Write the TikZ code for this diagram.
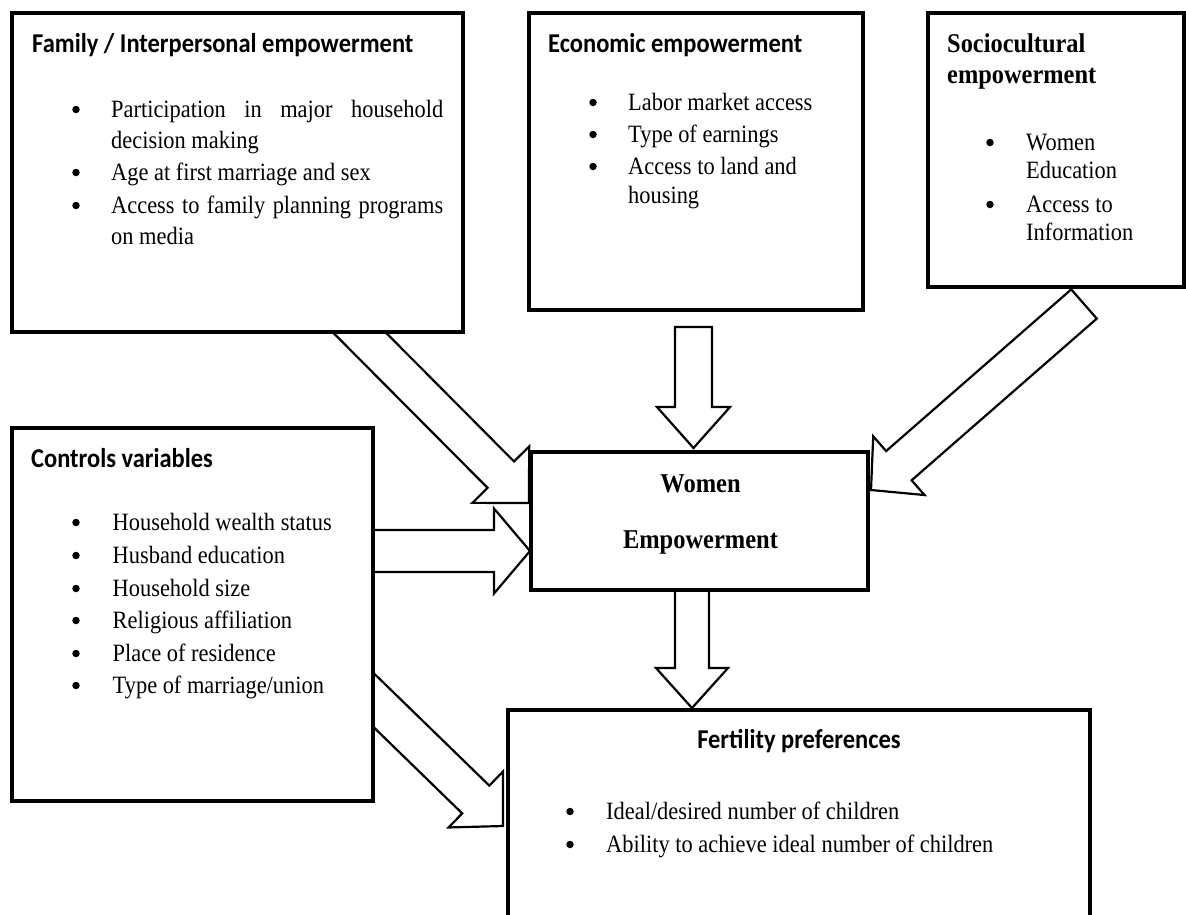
\documentclass[tikz,border=0pt]{standalone}
\usepackage{fontspec}
\setmainfont{Liberation Serif}[FakeStretch=0.9]
\newfontfamily\calibri{Carlito}[FakeStretch=0.9]
\usetikzlibrary{calc}
\pgfdeclarelayer{bg}
\pgfdeclarelayer{arr}
\pgfsetlayers{bg,arr,main}
\tikzset{
  box/.style={draw=black, line width=3.6pt, fill=white, rectangle, inner sep=0pt, outer sep=0pt, anchor=north west},
  blockarr/.style={draw=black, line width=2.2pt, fill=white, line join=miter},
  ttl/.style={font=\calibri\bfseries\fontsize{27.2}{31}\selectfont, inner sep=0pt, anchor=base west},
  sttl/.style={font=\bfseries\fontsize{27.1}{31}\selectfont, inner sep=0pt, anchor=base west},
  wttl/.style={font=\bfseries\fontsize{27.2}{31}\selectfont, inner sep=0pt, anchor=base},
  body/.style={font=\fontsize{24.9}{#1}\selectfont, inner sep=0pt, anchor=base west},
  body/.default=31.5,
  bul/.style={circle, fill=black, draw=none, inner sep=0pt, minimum size=7.5pt},
}
\newcommand\blockarrow[5]{%
  \path ($(#2)!#5!(#1)$) coordinate (tmpN);
  \draw[blockarr] ($(#1)!#3!90:(#2)$) -- ($(tmpN)!#3!90:(#2)$) -- ($(tmpN)!#4!90:(#2)$) -- (#2)
    -- ($(tmpN)!#4!-90:(#2)$) -- ($(tmpN)!#3!-90:(#2)$) -- ($(#1)!#3!-90:(#2)$) -- cycle;}
% bullet dot: name, x (left of glyph), baseline y
\newcommand\bulat[3]{\node[bul] (#1) at ($(#2,#3)+(4,-7.5)$) {};}
\begin{document}
\begin{tikzpicture}[x=1pt,y=-1pt]
\begin{pgfonlayer}{bg}
\fill[white] (0,0) rectangle (1186,914);
\end{pgfonlayer}
\useasboundingbox (0,0) rectangle (1186,914);

% boxes
\node[box, minimum width=451pt, minimum height=319pt] (fam) at (12,13) {};
\node[box, minimum width=334pt, minimum height=297pt] (econ) at (529,13) {};
\node[box, minimum width=256pt, minimum height=274pt] (socio) at (928,13) {};
\node[box, minimum width=361pt, minimum height=373pt] (ctrl) at (12,428) {};
\node[box, minimum width=337pt, minimum height=138pt] (women) at (531,452) {};
\node[box, minimum width=582pt, minimum height=240pt] (fert) at (508,710) {};

% arrow end points
\coordinate (famS) at ($(fam.south east)+(-123,-19)$);
\coordinate (famE) at ($(women.west)+(-2,-18)$);
\coordinate (ecoS) at ($(econ.south)+(-2.5,17)$);
\coordinate (ecoE) at ($(women.north)+(-6,-4)$);
\coordinate (socS) at ($(socio.south)+(28,17)$);
\coordinate (socE) at ($(women.east)+(3,-31)$);
\coordinate (ctwS) at ($(ctrl.east)+(-13,-63.5)$);
\coordinate (ctwE) at ($(women.west)+(-1,30)$);
\coordinate (ctfS) at ($(ctrl.east)+(-18,67.5)$);
\coordinate (ctfE) at ($(fert.north west)+(-5,116)$);
\coordinate (wfS) at ($(women.south)+(-7.5,-15)$);
\coordinate (wfE) at ($(women.south)+(-7.5,118)$);

\begin{pgfonlayer}{arr}
\blockarrow{ctwS}{ctwE}{21pt}{42.5pt}{36pt}
\blockarrow{famS}{famE}{18.7pt}{40pt}{40pt}
\blockarrow{ecoS}{ecoE}{18.5pt}{36.5pt}{41pt}
\blockarrow{socS}{socE}{19.4pt}{39pt}{37pt}
\blockarrow{ctfS}{ctfE}{19.4pt}{39pt}{38pt}
\blockarrow{wfS}{wfE}{17pt}{36pt}{40pt}
\end{pgfonlayer}

% Family box text
\node[ttl] (famT) at (32,52) {Family / Interpersonal empowerment};
\bulat{famB1}{72}{117}
\bulat{famB2}{72}{180}
\bulat{famB3}{72}{213}
\node[body] (famI1) at (111,117) {\parbox[t]{332pt}{Participation in major household\linebreak decision making}};
\node[body] (famI2) at (111,180) {Age at first marriage and sex};
\node[body] (famI3) at (111,213) {\parbox[t]{332pt}{Access to family planning programs\linebreak on media}};

% Economic box text
\node[ttl] (ecoT) at (548,52) {Economic empowerment};
\bulat{ecoB1}{589}{110}
\bulat{ecoB2}{589}{142}
\bulat{ecoB3}{589}{174}
\node[body] (ecoI1) at (628,110) {Labor market access};
\node[body] (ecoI2) at (628,142) {Type of earnings};
\node[body=29] (ecoI3) at (628,174) {\parbox[t]{220pt}{\raggedright Access to land and\\housing}};

% Sociocultural box text
\node[sttl] (socT) at (947,52) {\parbox[t]{220pt}{\raggedright Sociocultural\\empowerment}};
\bulat{socB1}{986}{150}
\bulat{socB2}{986}{212}
\node[body=28.5] (socI1) at (1026,150) {\parbox[t]{150pt}{\raggedright Women\\Education}};
\node[body=28.5] (socI2) at (1026,212) {\parbox[t]{150pt}{\raggedright Access to\\Information}};

% Controls box text
\node[ttl] (ctlT) at (31,467) {Controls variables};
\foreach \yy/\tx [count=\i] in {530/Household wealth status, 563/Husband education, 596/Household size, 628/Religious affiliation, 661/Place of residence, 693/Type of marriage\slash union}{
  \bulat{ctlB\i}{72}{\yy}
  \node[body] (ctlI\i) at (112.5,\yy) {\tx};
}

% Women empowerment text
\node[wttl] (womT1) at ($(women.center)+(1,-29)$) {Women};
\node[wttl] (womT2) at ($(women.center)+(1,27)$) {Empowerment};

% Fertility box text
\node[ttl, anchor=base] (ferT) at (799,748) {Fertility preferences};
\bulat{ferB1}{566}{819}
\bulat{ferB2}{566}{852}
\node[body] (ferI1) at (606,819) {Ideal/desired number of children};
\node[body] (ferI2) at (606,852) {Ability to achieve ideal number of children};
\end{tikzpicture}
\end{document}
